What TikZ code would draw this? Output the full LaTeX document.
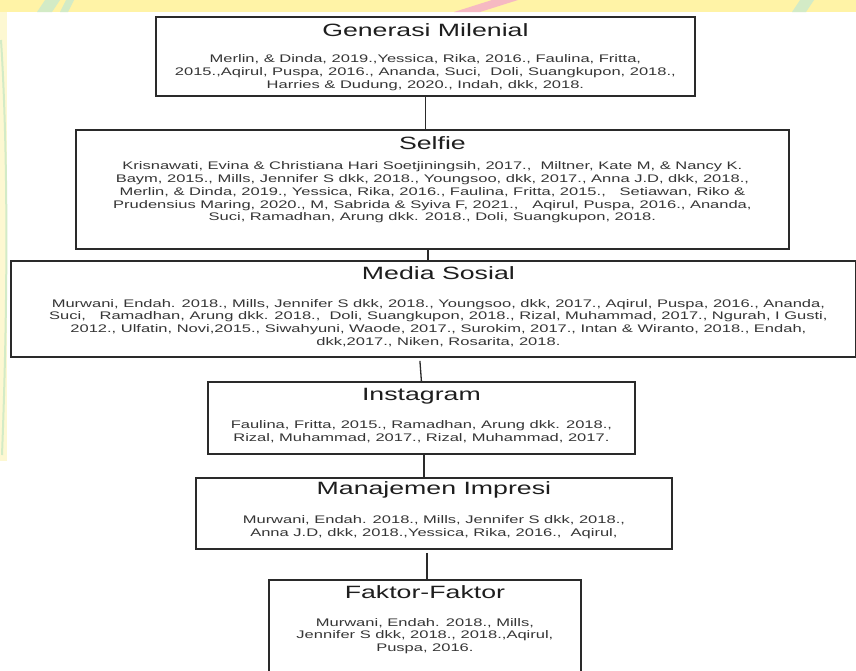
\documentclass[tikz,border=0pt]{standalone}
\usepackage{fontspec}
\setmainfont[FakeStretch=1.5]{Liberation Sans}
\usetikzlibrary{calc}
\definecolor{edgecol}{HTML}{2A2A2A}
\definecolor{titlecol}{HTML}{1E1E1E}
\definecolor{bibcol}{HTML}{353535}
\definecolor{wmyellow}{HTML}{FFF3A6}
\definecolor{wmpale}{HTML}{FDF8D2}
\definecolor{wmgreen}{HTML}{D3EBC6}
\definecolor{wmpink}{HTML}{F6B9C2}
\begin{document}
\begin{tikzpicture}[x=1pt,y=-1pt,
  box/.style={draw=edgecol, line width=1.8pt, rectangle, inner sep=0pt, anchor=north west},
  ttl/.style={text=titlecol, font=\fontsize{17.8}{20}\selectfont, inner sep=0pt},
  bib/.style={text=bibcol, font=\fontsize{11}{12.7}\selectfont, align=center, inner sep=0pt},
  link/.style={draw=edgecol, line width=1.3pt}]
\useasboundingbox (0,0) rectangle (856,670);
\clip (0,0) rectangle (856,670);
% watermark remnants
\fill[white] (0,0) rectangle (856,670);
\fill[wmyellow] (0,0) rectangle (856,12);
\fill[wmgreen] (45,0) -- (60,0) -- (52,12) -- (37,12) -- cycle;
\fill[wmgreen] (66,0) -- (74,0) -- (68,12) -- (60,12) -- cycle;
\fill[wmpink] (492,0) -- (518,0) -- (480,12) -- (454,12) -- cycle;
\fill[wmgreen] (800,0) -- (814,0) -- (806,12) -- (792,12) -- cycle;
\fill[wmpale] (0,12) rectangle (7,461);
\draw[wmgreen, line width=2pt] (1,40) .. controls (8,150) and (8,300) .. (2,455);

% boxes
\node[box, minimum width=539pt, minimum height=79pt] (b1) at (155,16) {};
\node[box, minimum width=713pt, minimum height=119pt] (b2) at (75,129) {};
\node[box, minimum width=845pt, minimum height=96pt] (b3) at (10,260) {};
\node[box, minimum width=427pt, minimum height=72pt] (b4) at (207,381) {};
\node[box, minimum width=476pt, minimum height=71pt] (b5) at (195,477) {};
\node[box, minimum width=312pt, minimum height=112pt] (b6) at (268,579) {};

% titles
\node[ttl] (t1) at ($(b1.north)+(0,14)$) {Generasi Milenial};
\node[ttl] (t2) at ($(b2.north)+(0,14)$) {Selfie};
\node[ttl] (t3) at ($(b3.north)+(5,13)$) {Media Sosial};
\node[ttl] (t4) at ($(b4.north)+(0,15)$) {Instagram};
\node[ttl] (t5) at ($(b5.north)+(0,13)$) {Manajemen Impresi};
\node[ttl] (t6) at ($(b6.north)+(0,13)$) {Faktor-Faktor};

% references
\node[bib] (r1) at ($(b1.north)+(0,56.5)$) {Merlin, \& Dinda, 2019.,Yessica, Rika, 2016., Faulina, Fritta,\\
2015.,Aqirul, Puspa, 2016., Ananda, Suci,\ \ Doli, Suangkupon, 2018.,\\
Harries \& Dudung, 2020., Indah, dkk, 2018.};
\node[bib] (r2) at ($(b2.north)+(0,63.5)$) {Krisnawati, Evina \& Christiana Hari Soetjiningsih, 2017.,\ \ Miltner, Kate M, \& Nancy K.\\
Baym, 2015., Mills, Jennifer S dkk, 2018., Youngsoo, dkk, 2017., Anna J.D, dkk, 2018.,\\
Merlin, \& Dinda, 2019., Yessica, Rika, 2016., Faulina, Fritta, 2015.,\ \ \ Setiawan, Riko \&\\
Prudensius Maring, 2020., M, Sabrida \& Syiva F, 2021.,\ \ \ Aqirul, Puspa, 2016., Ananda,\\
Suci, Ramadhan, Arung dkk. 2018., Doli, Suangkupon, 2018.};
\node[bib] (r3) at ($(b3.north)+(5,63)$) {Murwani, Endah. 2018., Mills, Jennifer S dkk, 2018., Youngsoo, dkk, 2017., Aqirul, Puspa, 2016., Ananda,\\
Suci,\ \ \ Ramadhan, Arung dkk. 2018.,\ \ Doli, Suangkupon, 2018., Rizal, Muhammad, 2017., Ngurah, I Gusti,\\
2012., Ulfatin, Novi,2015., Siwahyuni, Waode, 2017., Surokim, 2017., Intan \& Wiranto, 2018., Endah,\\
dkk,2017., Niken, Rosarita, 2018.};
\node[bib] (r4) at ($(b4.north)+(0,50.5)$) {Faulina, Fritta, 2015., Ramadhan, Arung dkk. 2018.,\\
Rizal, Muhammad, 2017., Rizal, Muhammad, 2017.};
\node[bib] (r5) at ($(b5.north)+(0,50)$) {Murwani, Endah. 2018., Mills, Jennifer S dkk, 2018.,\\
Anna J.D, dkk, 2018.,Yessica, Rika, 2016.,\ \ Aqirul,};
\node[bib] (r6) at ($(b6.north)+(0,57)$) {Murwani, Endah. 2018., Mills,\\
Jennifer S dkk, 2018., 2018.,Aqirul,\\
Puspa, 2016.};

% connectors
\draw[link] (b1.south) -- (b1.south |- b2.north);
\coordinate (c2) at ($(b2.south)+(-4.5,0)$);
\draw[link] (c2) -- (c2 |- b3.north);
\coordinate (c3) at ($(b3.south -| b4.north)+(-1.5,3)$);
\draw[link] (c3) -- (b4.north);
\coordinate (c4) at ($(b4.south)+(2.5,0)$);
\draw[link] (c4) -- (c4 |- b5.north);
\coordinate (c5) at ($(b5.south -| b6.north)+(2,3)$);
\draw[link] (c5) -- ($(b6.north)+(2,0)$);
\end{tikzpicture}
\end{document}
